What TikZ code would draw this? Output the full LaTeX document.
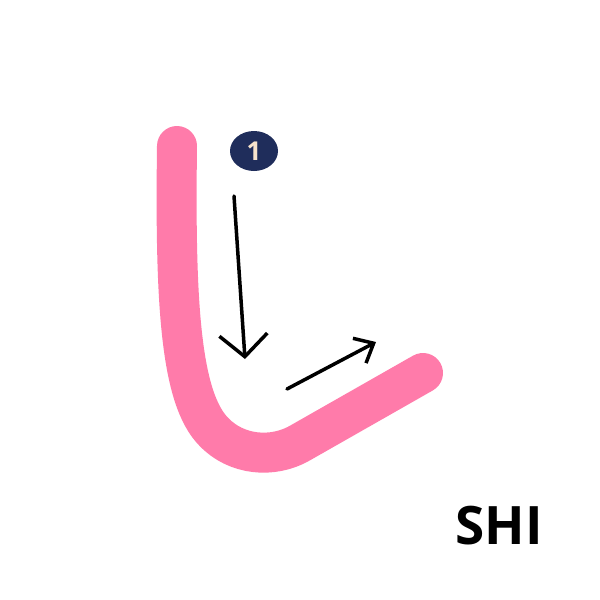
\documentclass[tikz,border=0pt]{standalone}
\usepackage{fontspec}
\setmainfont{Open Sans}
\usetikzlibrary{shapes.geometric, arrows.meta, positioning}
\definecolor{kanapink}{HTML}{FF7BAA}
\definecolor{dotnavy}{HTML}{1F2D5B}
\definecolor{dotcream}{HTML}{F7E3CC}

\begin{document}
\begin{tikzpicture}[x=1pt, y=-1pt,
  stroke/.style={draw=kanapink, line width=40pt, line cap=round, line join=round},
  numdot/.style={ellipse, fill=dotnavy, text=dotcream, font=\bfseries\fontsize{26}{26}\selectfont, minimum width=48pt, minimum height=40pt, inner sep=0pt},
  guide/.style={draw=black, line width=3.5pt, line cap=round},
  bigarr/.style={guide, -{Straight Barb[length=22pt, width=48pt, line width=3.5pt]}},
  smallarr/.style={guide, -{Straight Barb[length=16pt, width=28pt, line width=3.5pt]}},
  romaji/.style={font=\bfseries\fontsize{53}{53}\selectfont},
]
\useasboundingbox[fill=white] (0,0) rectangle (600,600);

% the stroke of shi
\coordinate (top) at (177,146);
\coordinate (tail) at (423,373);
\draw[stroke] (top) .. controls (175,300) and (180,398) .. (214,432)
  .. controls (236,455) and (272,459) .. (300,443) -- (tail);

\node[numdot] (n1) at (254,151) {1};

% direction guides
\coordinate (d1) at (234,196);
\coordinate (d2) at (245,359);
\coordinate (r1) at (287,389);
\coordinate (r2) at (376,342);
\draw[bigarr] (d1) -- (d2);
\draw[smallarr] (r1) -- (r2);

\node[romaji] (shi) at (499,526) {SHI};
\end{tikzpicture}
\end{document}
